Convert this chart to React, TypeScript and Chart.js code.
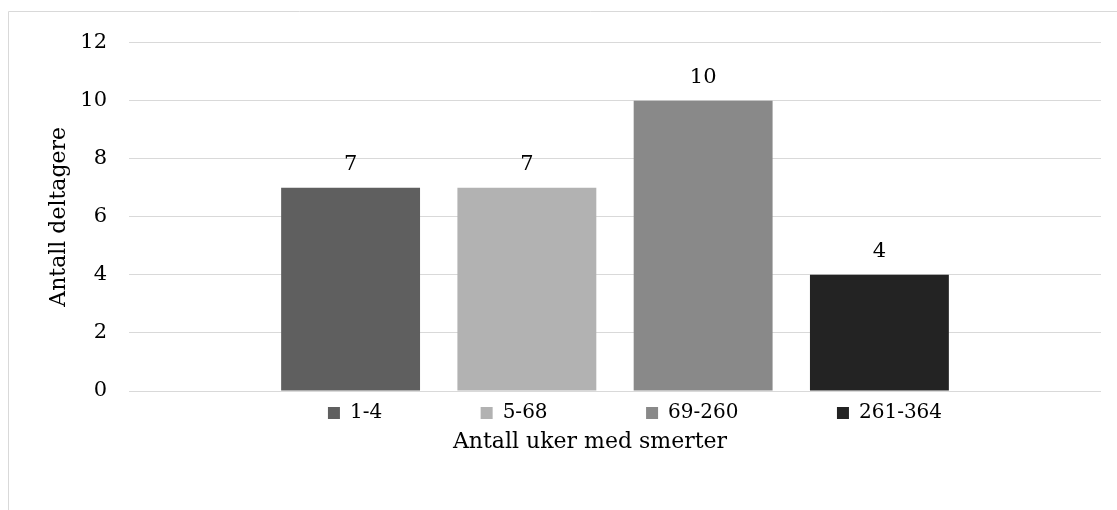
import React, { useEffect, useRef } from "react";
import { Chart, registerables } from "chart.js";

Chart.register(...registerables);

// ---- data ----
const CATEGORIES: string[] = [""];
const SERIES_LABELS: string[] = ["1-4", "5-68", "69-260", "261-364"];
const SERIES_VALUES: number[] = [7, 7, 10, 4];
const SERIES_COLORS: string[] = ["#5f5f5f", "#b2b2b2", "#898989", "#232323"];
const Y_MIN = 0;
const Y_MAX = 12;
const Y_STEP = 2;
const Y_TITLE = "Antall deltagere";
const X_TITLE = "Antall uker med smerter";

// ---- style ----
const FONT = "'DejaVu Serif', serif";
const W = 1164;
const H = 502;
const LEGEND_PAD = 98.5;
const LEGEND_FONT = 20;
const LEGEND_TEXT_Y = 405;
const LEGEND_DX = 20;

const borderPlugin = {
  id: "outerBorder",
  beforeDraw(chart: any) {
    const ctx = chart.ctx;
    ctx.save();
    ctx.strokeStyle = "#d9d9d9";
    ctx.lineWidth = 1;
    ctx.beginPath();
    ctx.moveTo(0.5, chart.height);
    ctx.lineTo(0.5, 3.5);
    ctx.lineTo(chart.width, 3.5);
    ctx.stroke();
    ctx.restore();
  },
};

const legendPlace = {
  id: "legendPlace",
  afterLayout(chart: any) {
    const lg = chart.legend;
    if (!lg) return;
    lg.top = LEGEND_TEXT_Y - LEGEND_PAD - LEGEND_FONT / 2;
    lg.bottom = LEGEND_TEXT_Y + LEGEND_FONT;
    lg.left += LEGEND_DX;
    lg.right += LEGEND_DX;
  },
};

const valueLabels = {
  id: "valueLabels",
  afterDatasetsDraw(chart: any) {
    const ctx = chart.ctx;
    ctx.save();
    ctx.font = `21px ${FONT}`;
    ctx.fillStyle = "#000";
    ctx.textAlign = "center";
    ctx.textBaseline = "middle";
    chart.data.datasets.forEach((ds: any, i: number) => {
      const meta = chart.getDatasetMeta(i);
      meta.data.forEach((el: any, j: number) => {
        ctx.fillText(String(ds.data[j]), el.x, el.y - 23);
      });
    });
    ctx.restore();
  },
};

export default function App() {
  const ref = useRef<HTMLCanvasElement | null>(null);

  useEffect(() => {
    if (!ref.current) return;
    const chart = new Chart(ref.current, {
      type: "bar",
      data: {
        labels: CATEGORIES,
        datasets: SERIES_LABELS.map((label, i) => ({
          label,
          data: [SERIES_VALUES[i]],
          backgroundColor: SERIES_COLORS[i],
          borderColor: SERIES_COLORS[i],
          borderWidth: 0,
          categoryPercentage: 0.7254,
          barPercentage: 0.788,
        })),
      },
      options: {
        responsive: false,
        animation: false,
        layout: { padding: { top: 33, left: 0, right: 0, bottom: 54.6 } },
        scales: {
          x: { display: false },
          y: {
            min: Y_MIN,
            max: Y_MAX,
            ticks: {
              stepSize: Y_STEP,
              padding: 22,
              color: "#000",
              font: { family: FONT, size: 21 },
            },
            grid: { color: "#d9d9d9", lineWidth: 1, drawTicks: false },
            border: { display: false },
            title: {
              display: true,
              text: Y_TITLE,
              color: "#000",
              font: { family: FONT, size: 22 },
              padding: { top: 37.8, bottom: 0 },
            },
            afterFit: (s: any) => {
              s.width = 121;
            },
          },
          y2: {
            position: "right",
            display: true,
            ticks: { display: false },
            grid: { display: false },
            border: { display: false },
            afterFit: (s: any) => {
              s.width = 71;
            },
          },
        },
        plugins: {
          legend: {
            display: true,
            position: "bottom",
            fullSize: false,
            maxHeight: 30,
            labels: {
              boxWidth: 12,
              boxHeight: 12,
              padding: LEGEND_PAD,
              color: "#000",
              font: { family: FONT, size: LEGEND_FONT },
            },
          },
          title: {
            display: true,
            position: "bottom",
            text: X_TITLE,
            color: "#000",
            fullSize: true,
            font: { family: FONT, size: 22, weight: "normal" },
            padding: { top: 8, bottom: 0 },
          },
          tooltip: { enabled: false },
        },
      },
      plugins: [borderPlugin, legendPlace, valueLabels],
    } as any);
    return () => chart.destroy();
  }, []);

  return (
    <div style={{ position: "fixed", left: 8, top: 8, width: W, height: H }}>
      <canvas ref={ref} width={W} height={H} style={{ display: "block" }} />
    </div>
  );
}
